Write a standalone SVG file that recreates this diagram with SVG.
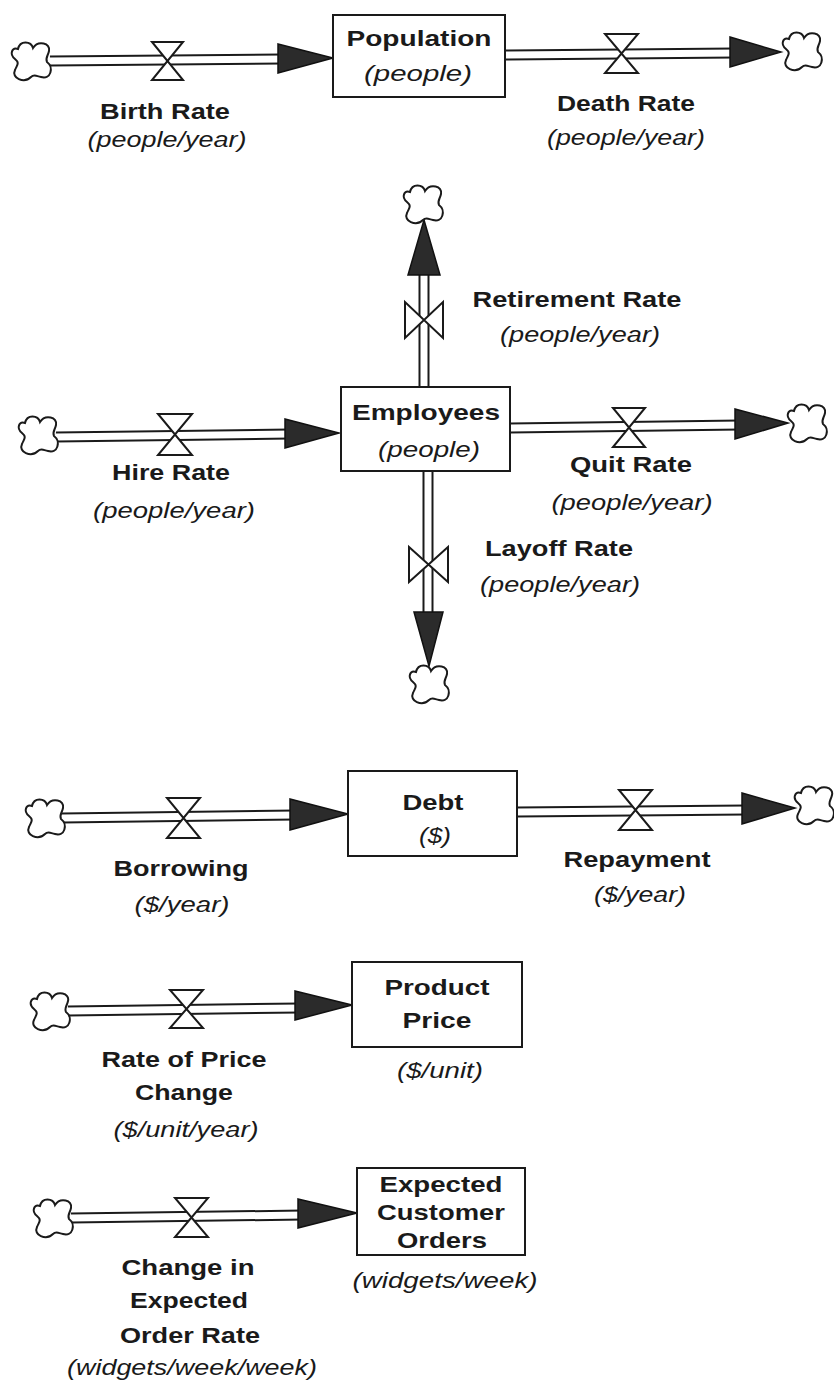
<svg xmlns="http://www.w3.org/2000/svg" xmlns:xlink="http://www.w3.org/1999/xlink" width="834" height="1387" viewBox="0 0 834 1387">
<style>
  .bg{fill:#ffffff}
  .box{fill:#ffffff;stroke:#1a1a1a;stroke-width:2}
  .po{fill:none;stroke:#1a1a1a;stroke-width:11}
  .pi{fill:none;stroke:#ffffff;stroke-width:7}
  .valve{fill:#ffffff;stroke:#1a1a1a;stroke-width:2;stroke-linejoin:miter}
  .head{fill:#2b2b2b;stroke:#111;stroke-width:1.5;stroke-linejoin:miter}
  .cloud{fill:#ffffff;stroke:#1a1a1a;stroke-width:2}
  .n{font-family:"Liberation Sans",Arial,sans-serif;font-weight:bold;font-size:22px;fill:#1a1a1a;text-anchor:middle}
  .u{font-family:"Liberation Sans",Arial,sans-serif;font-style:italic;font-size:22px;fill:#1a1a1a;text-anchor:middle}
</style>
<defs>
  <path id="cl" class="cloud" d="M -14,-12 C -12,-21 -1,-20 1,-13 C 6,-21 19,-18 17,-10 C 16,-5 13,-3 15,1 C 22,6 19,19 9,16 C 4,15 2,13 -1,16 C -8,23 -21,17 -17,9 C -15,4 -12,2 -17,-2 C -23,-7 -20,-14 -14,-12 Z"/>
</defs>
<rect class="bg" x="0" y="0" width="834" height="1387"/>

<g id="connectors">
  <!-- pipes -->
  <path class="po" d="M 50,61 L 282,59"/><path class="pi" d="M 50,61 L 282,59"/>
  <path class="po" d="M 505,55 L 735,53"/><path class="pi" d="M 505,55 L 735,53"/>
  <path class="po" d="M 424,387 L 424,270"/><path class="pi" d="M 424,387 L 424,270"/>
  <path class="po" d="M 56,437 L 290,434"/><path class="pi" d="M 56,437 L 290,434"/>
  <path class="po" d="M 510,428 L 740,425"/><path class="pi" d="M 510,428 L 740,425"/>
  <path class="po" d="M 428,471 L 428,617"/><path class="pi" d="M 428,471 L 428,617"/>
  <path class="po" d="M 62,818 L 295,815"/><path class="pi" d="M 62,818 L 295,815"/>
  <path class="po" d="M 517,812 L 746,810"/><path class="pi" d="M 517,812 L 746,810"/>
  <path class="po" d="M 68,1011 L 300,1008"/><path class="pi" d="M 68,1011 L 300,1008"/>
  <path class="po" d="M 71,1218 L 303,1215"/><path class="pi" d="M 71,1218 L 303,1215"/>
  <!-- arrowheads -->
  <polygon class="head" points="278,44 333,58 278,73"/>
  <polygon class="head" points="730,37 781,52 730,67"/>
  <polygon class="head" points="408,275 424,220 440,275"/>
  <polygon class="head" points="285,419 339,433 285,448"/>
  <polygon class="head" points="735,409 788,423 735,439"/>
  <polygon class="head" points="414,612 429,666 443,612"/>
  <polygon class="head" points="290,799 348,814 290,830"/>
  <polygon class="head" points="742,793 795,808 742,824"/>
  <polygon class="head" points="295,991 352,1005 295,1020"/>
  <polygon class="head" points="298,1199 357,1213 298,1228"/>
  <!-- valves -->
  <path class="valve" d="M 152,42 L 183,42 L 152,80 L 183,80 Z"/>
  <path class="valve" d="M 605,34 L 638,34 L 605,73 L 638,73 Z"/>
  <path class="valve" d="M 405,302 L 405,338 L 443,302 L 443,338 Z"/>
  <path class="valve" d="M 158,414 L 192,414 L 158,455 L 192,455 Z"/>
  <path class="valve" d="M 613,408 L 645,408 L 613,447 L 645,447 Z"/>
  <path class="valve" d="M 409,547 L 409,582 L 448,547 L 448,582 Z"/>
  <path class="valve" d="M 167,798 L 200,798 L 167,838 L 200,838 Z"/>
  <path class="valve" d="M 619,790 L 652,790 L 619,830 L 652,830 Z"/>
  <path class="valve" d="M 170,990 L 203,990 L 170,1028 L 203,1028 Z"/>
  <path class="valve" d="M 175,1198 L 208,1198 L 175,1237 L 208,1237 Z"/>
  <!-- clouds -->
  <use xlink:href="#cl" transform="translate(32,61)"/>
  <use xlink:href="#cl" transform="translate(803,51)"/>
  <use xlink:href="#cl" transform="translate(424,204)"/>
  <use xlink:href="#cl" transform="translate(39,435)"/>
  <use xlink:href="#cl" transform="translate(808,423)"/>
  <use xlink:href="#cl" transform="translate(430,684)"/>
  <use xlink:href="#cl" transform="translate(46,818)"/>
  <use xlink:href="#cl" transform="translate(815,805)"/>
  <use xlink:href="#cl" transform="translate(51,1011)"/>
  <use xlink:href="#cl" transform="translate(54,1218)"/>
</g>

<g id="population">
  <rect class="box" x="333" y="15" width="172" height="82"/>
  <text class="n" x="419" y="46" textLength="145" lengthAdjust="spacingAndGlyphs">Population</text>
  <text class="u" x="418" y="81" textLength="108" lengthAdjust="spacingAndGlyphs">(people)</text>
</g>
<g id="birth-rate">
  <text class="n" x="165" y="119" textLength="130" lengthAdjust="spacingAndGlyphs">Birth Rate</text>
  <text class="u" x="167" y="147" textLength="159" lengthAdjust="spacingAndGlyphs">(people/year)</text>
</g>
<g id="death-rate">
  <text class="n" x="626" y="111" textLength="138" lengthAdjust="spacingAndGlyphs">Death Rate</text>
  <text class="u" x="626" y="145" textLength="158" lengthAdjust="spacingAndGlyphs">(people/year)</text>
</g>

<g id="employees">
  <rect class="box" x="341" y="387" width="169" height="84"/>
  <text class="n" x="426" y="420" textLength="148" lengthAdjust="spacingAndGlyphs">Employees</text>
  <text class="u" x="429" y="457" textLength="102" lengthAdjust="spacingAndGlyphs">(people)</text>
</g>
<g id="retirement-rate">
  <text class="n" x="577" y="307" textLength="209" lengthAdjust="spacingAndGlyphs">Retirement Rate</text>
  <text class="u" x="580" y="342" textLength="160" lengthAdjust="spacingAndGlyphs">(people/year)</text>
</g>
<g id="hire-rate">
  <text class="n" x="171" y="480" textLength="118" lengthAdjust="spacingAndGlyphs">Hire Rate</text>
  <text class="u" x="174" y="518" textLength="162" lengthAdjust="spacingAndGlyphs">(people/year)</text>
</g>
<g id="quit-rate">
  <text class="n" x="631" y="472" textLength="122" lengthAdjust="spacingAndGlyphs">Quit Rate</text>
  <text class="u" x="632" y="510" textLength="161" lengthAdjust="spacingAndGlyphs">(people/year)</text>
</g>
<g id="layoff-rate">
  <text class="n" x="559" y="556" textLength="148" lengthAdjust="spacingAndGlyphs">Layoff Rate</text>
  <text class="u" x="560" y="592" textLength="160" lengthAdjust="spacingAndGlyphs">(people/year)</text>
</g>

<g id="debt">
  <rect class="box" x="348" y="771" width="169" height="85"/>
  <text class="n" x="433" y="810" textLength="61" lengthAdjust="spacingAndGlyphs">Debt</text>
  <text class="u" x="435" y="843" textLength="32" lengthAdjust="spacingAndGlyphs">($)</text>
</g>
<g id="borrowing">
  <text class="n" x="181" y="876" textLength="135" lengthAdjust="spacingAndGlyphs">Borrowing</text>
  <text class="u" x="182" y="912" textLength="95" lengthAdjust="spacingAndGlyphs">($/year)</text>
</g>
<g id="repayment">
  <text class="n" x="637" y="867" textLength="147" lengthAdjust="spacingAndGlyphs">Repayment</text>
  <text class="u" x="640" y="902" textLength="92" lengthAdjust="spacingAndGlyphs">($/year)</text>
</g>

<g id="product-price">
  <rect class="box" x="352" y="962" width="170" height="85"/>
  <text class="n" x="437" y="995" textLength="105" lengthAdjust="spacingAndGlyphs">Product</text>
  <text class="n" x="437" y="1028" textLength="69" lengthAdjust="spacingAndGlyphs">Price</text>
  <text class="u" x="440" y="1078" textLength="86" lengthAdjust="spacingAndGlyphs">($/unit)</text>
</g>
<g id="rate-of-price-change">
  <text class="n" x="184" y="1067" textLength="165" lengthAdjust="spacingAndGlyphs">Rate of Price</text>
  <text class="n" x="184" y="1100" textLength="98" lengthAdjust="spacingAndGlyphs">Change</text>
  <text class="u" x="186" y="1137" textLength="145" lengthAdjust="spacingAndGlyphs">($/unit/year)</text>
</g>

<g id="expected-customer-orders">
  <rect class="box" x="357" y="1168" width="168" height="87"/>
  <text class="n" x="441" y="1192" textLength="123" lengthAdjust="spacingAndGlyphs">Expected</text>
  <text class="n" x="441" y="1220" textLength="128" lengthAdjust="spacingAndGlyphs">Customer</text>
  <text class="n" x="442" y="1248" textLength="90" lengthAdjust="spacingAndGlyphs">Orders</text>
  <text class="u" x="445" y="1288" textLength="185" lengthAdjust="spacingAndGlyphs">(widgets/week)</text>
</g>
<g id="change-in-expected-order-rate">
  <text class="n" x="188" y="1275" textLength="133" lengthAdjust="spacingAndGlyphs">Change in</text>
  <text class="n" x="189" y="1308" textLength="118" lengthAdjust="spacingAndGlyphs">Expected</text>
  <text class="n" x="190" y="1343" textLength="140" lengthAdjust="spacingAndGlyphs">Order Rate</text>
  <text class="u" x="192" y="1375" textLength="250" lengthAdjust="spacingAndGlyphs">(widgets/week/week)</text>
</g>
</svg>
